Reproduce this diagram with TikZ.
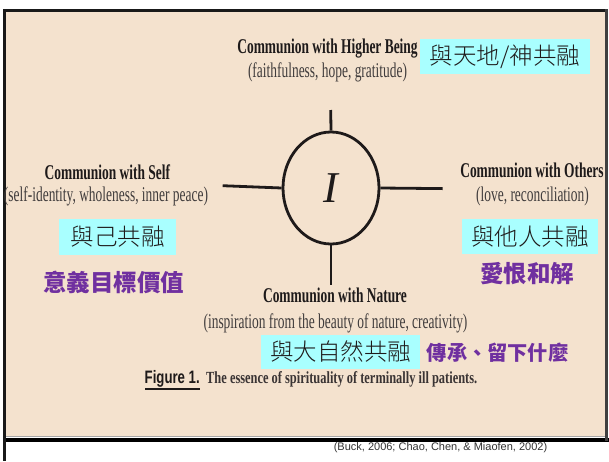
\documentclass[tikz,border=0pt]{standalone}
\usepackage{fontspec}
\usepackage{graphicx}
\setmainfont{Liberation Serif}
\newfontfamily\condserif[FakeStretch=0.64]{Liberation Serif}
\newfontfamily\plainsans{Liberation Sans}
\newfontfamily\cjk{Noto Sans CJK TC}
\newfontfamily\cjklight{Noto Sans CJK TC Light}
\usetikzlibrary{shapes.geometric}
\definecolor{beige}{HTML}{F4E2CE}
\definecolor{hicyan}{HTML}{A9FFFF}
\definecolor{purp}{HTML}{7030A0}
\definecolor{ink}{HTML}{1E1A1A}
\definecolor{capgray}{HTML}{3A3434}
\newcommand\hfitto[2]{\resizebox{#1}{\height}{#2}}
\tikzset{
  ttl/.style={inner sep=0pt, anchor=base, text=ink, font=\condserif\bfseries\fontsize{21}{23}\selectfont},
  sub/.style={inner sep=0pt, anchor=base, text=ink!85, font=\condserif\fontsize{21}{23}\selectfont},
  cybox/.style={fill=hicyan, inner sep=0pt, text=ink, font=\cjklight\fontsize{23.5}{26}\selectfont},
  purtext/.style={inner sep=0pt, text=purp, font=\cjk\bfseries\fontsize{23.5}{26}\selectfont},
  axisline/.style={line width=2.8pt, draw=ink},
}
\begin{document}
\begin{tikzpicture}[x=1pt, y=-1pt]
\useasboundingbox (0,0) rectangle (609,461);
\fill[white] (0,0) rectangle (609,461);
% background panel
\fill[beige] (6,12) rectangle (605,436);
\draw[line width=1.5pt, gray!70] (6,436.5) -- (605,436.5);
\draw[line width=3.5pt, black] (3,439.8) -- (609,439.8);
\draw[line width=3pt, black!90] (3,10.5) -- (607.5,10.5);
\draw[line width=3pt, black!90] (4.5,9) -- (4.5,461);
\draw[line width=2.5pt, black!75] (606.3,9) -- (606.3,441);

% central ellipse
\node[draw=ink, ellipse, line width=2.8pt, minimum width=96pt, minimum height=112pt, inner sep=0pt,
      font=\itshape\fontsize{44}{46}\selectfont, text=ink] (I) at (331,188) {I};
\coordinate (topEnd) at (330.7,110);
\coordinate (leftEnd) at (222.7,185.7);
\coordinate (rightEnd) at (442.7,188.6);
\coordinate (botEnd) at (331,285);
\draw[axisline] (I.north) -- (topEnd);
\draw[axisline] (I.west) -- (leftEnd);
\draw[axisline] (I.east) -- (rightEnd);
\draw[axisline] (I.south) -- (botEnd);

% Higher Being
\node[ttl] (hbT) at (327.5,53) {Communion with Higher Being};
\node[sub] (hbS) at (327.5,77) {(faithfulness, hope, gratitude)};
\node[cybox, minimum width=170pt, minimum height=35pt] (hbC) at (505,56.5) {與天地/神共融};

% Self
\node[ttl] (slT) at (107.4,179) {Communion with Self};
\node[sub] (slS) at (106,201) {(self-identity, wholeness, inner peace)};
\node[cybox, minimum width=117pt, minimum height=36pt] (slC) at (117.7,237) {與己共融};
\node[purtext] (slP) at (113.5,282) {意義目標價值};

% Others
\node[ttl] (otT) at (532,177) {Communion with Others};
\node[sub] (otS) at (532.5,201) {(love, reconciliation)};
\node[cybox, minimum width=136pt, minimum height=35pt] (otC) at (530,236.5) {與他人共融};
\node[purtext] (otP) at (527,274) {愛恨和解};

% Nature
\node[ttl] (naT) at (335,302) {Communion with Nature};
\node[sub] (naS) at (335.5,328) {(inspiration from the beauty of nature, creativity)};
\node[cybox, minimum width=159pt, minimum height=34pt] (naC) at (340.5,352) {與大自然共融};
\node[purtext, font=\cjk\bfseries\fontsize{20.2}{22}\selectfont] (naP) at (497.5,352.5) {傳承、留下什麼};

% caption
\node[inner sep=0pt, anchor=base west, text=ink, font=\plainsans\bfseries\fontsize{18}{20}\selectfont] (figL) at (144.5,383) {\hfitto{55pt}{Figure 1.}};
\coordinate (ulA) at (145,389);
\coordinate (ulB) at (199.5,389);
\draw[line width=2pt, ink] (ulA) -- (ulB);
\node[inner sep=0pt, anchor=base west, text=capgray, font=\condserif\bfseries\fontsize{17}{19}\selectfont] (figT) at (206,383) {\hfitto{271pt}{The essence of spirituality of terminally ill patients.}};

% citation
\node[inner sep=0pt, text=black!80, font=\plainsans\fontsize{11}{13}\selectfont] (cite) at (440.5,447.5) {(Buck, 2006; Chao, Chen, \& Miaofen, 2002)};
\end{tikzpicture}
\end{document}
